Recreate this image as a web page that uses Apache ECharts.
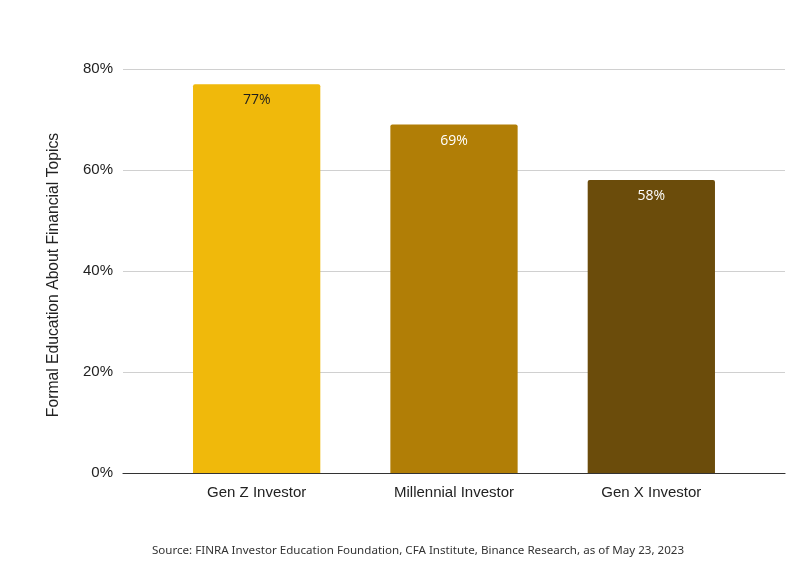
<!DOCTYPE html>
<html>
<head>
<meta charset="utf-8">
<script src="https://cdn.jsdelivr.net/npm/echarts@6/dist/echarts.min.js"></script>
<style>
  html, body { margin: 0; padding: 0; background: #fff; }
  #chart { width: 803px; height: 565px; }
</style>
</head>
<body>
<div id="chart"></div>
<script>
var categories = ['Gen Z Investor', 'Millennial Investor', 'Gen X Investor'];
var values = [77, 69, 58];
var barColors = ['#F0B90B', '#B17E06', '#6B4C0B'];
var labelColors = ['#1E1E1E', '#FFFFFF', '#FFFFFF'];
var yTicks = [0, 20, 40, 60, 80];

var myChart = echarts.init(document.getElementById('chart'));

var barData = values.map(function (v, i) {
    return {
        value: v,
        itemStyle: { color: barColors[i], borderRadius: [2, 2, 0, 0] },
        label: { color: labelColors[i] }
    };
});

var option = {
    backgroundColor: '#fff',
    animation: false,
    title: {
        text: 'Source: FINRA Investor Education Foundation, CFA Institute, Binance Research, as of May 23, 2023',
        left: 413,
        top: 540,
        textAlign: 'center',
        textStyle: { fontFamily: 'Noto Sans', fontSize: 11.6, fontWeight: 'normal', color: '#333' }
    },
    grid: [
        { left: 123, right: 18, top: 69, bottom: 92 },
        { left: 158, right: 53, top: 69, bottom: 92 }
    ],
    xAxis: [
        {
            gridIndex: 0,
            type: 'category',
            data: ['', '', ''],
            axisLine: { lineStyle: { color: '#333', width: 1.2 } },
            axisTick: { show: false },
            axisLabel: { show: false }
        },
        {
            gridIndex: 1,
            type: 'category',
            data: categories,
            axisLine: { show: false },
            axisTick: { show: false },
            axisLabel: {
                margin: 12,
                fontFamily: 'Liberation Sans',
                fontSize: 15,
                color: '#222'
            }
        }
    ],
    yAxis: [
        {
            gridIndex: 0,
            type: 'value',
            min: yTicks[0],
            max: yTicks[yTicks.length - 1],
            interval: 20,
            name: 'Formal Education About Financial Topics',
            nameLocation: 'middle',
            nameGap: 61,
            nameTextStyle: {
                fontFamily: 'Liberation Sans',
                fontSize: 15.7,
                color: '#222',
                padding: [0, 8, 0, 0]
            },
            axisLine: { show: false },
            axisTick: { show: false },
            axisLabel: {
                margin: 10,
                fontFamily: 'Liberation Sans',
                fontSize: 15,
                color: '#222',
                formatter: '{value}%'
            },
            splitLine: { lineStyle: { color: '#D0D0D0', width: 1 } }
        },
        {
            gridIndex: 1,
            type: 'value',
            min: yTicks[0],
            max: yTicks[yTicks.length - 1],
            show: false
        }
    ],
    series: [
        {
            type: 'bar',
            xAxisIndex: 1,
            yAxisIndex: 1,
            barWidth: '64.5%',
            data: barData,
            label: {
                show: true,
                position: 'insideTop',
                distance: 9,
                fontFamily: 'Open Sans',
                fontWeight: 'normal',
                fontSize: 14,
                formatter: '{c}%'
            }
        }
    ]
};

myChart.setOption(option);
</script>
</body>
</html>
